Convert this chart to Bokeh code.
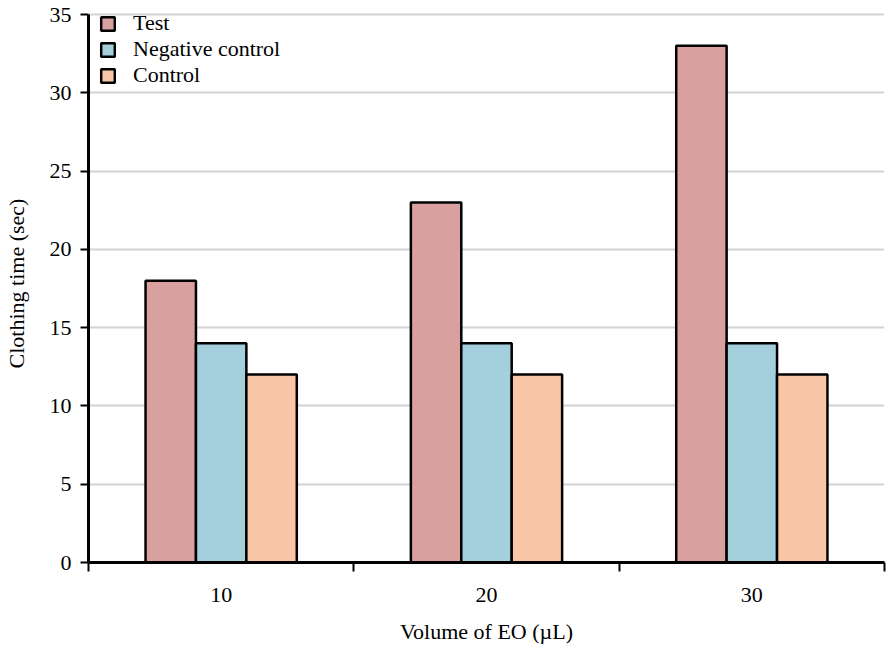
from bokeh.plotting import figure
from bokeh.models import ColumnDataSource, Range1d, FixedTicker, Legend, LegendItem
from bokeh.embed import file_html
from bokeh.resources import INLINE

categories = ["10", "20", "30"]
series_names = ["Test", "Negative control", "Control"]
test = [18, 23, 33]
negative_control = [14, 14, 14]
control = [12, 12, 12]
colors = ["#d8a09f", "#a4cfdd", "#f9c6a8"]
y_ticks = [0, 5, 10, 15, 20, 25, 30, 35]

FONT = "Liberation Serif"
FS = "22px"

# frame top a little above the 35 tick so the legend fits inside the frame;
# the axis line itself is bounded to 0..35
p = figure(width=886, height=646, output_backend="svg", toolbar_location=None,
           x_range=Range1d(0, len(categories)), y_range=Range1d(0, 35.64),
           min_border_left=88, min_border_right=2, min_border_top=4, min_border_bottom=84)
p.outline_line_color = None
p.background_fill_color = "white"
p.border_fill_color = "white"

width = 0.19
offsets = [-0.19, 0.0, 0.19]
series = [test, negative_control, control]
renderers = []
for name, vals, off, col in zip(series_names, series, offsets, colors):
    xs = [i + 0.5 + off for i in range(len(categories))]
    src = ColumnDataSource(dict(x=xs, top=vals, cat=categories))
    r = p.vbar(x="x", top="top", bottom=0, width=width, source=src,
               fill_color=col, line_color="black", line_width=2.5)
    renderers.append((name, r))

# X axis: labels at centres, ticks at group boundaries
p.xaxis.ticker = FixedTicker(ticks=[i + 0.5 for i in range(len(categories))],
                             minor_ticks=list(range(len(categories) + 1)))
p.xaxis.major_label_overrides = {i + 0.5: c for i, c in enumerate(categories)}
p.xaxis.major_tick_line_color = None
p.xaxis.major_tick_out = 0
p.xaxis.major_tick_in = 0
p.xaxis.minor_tick_out = 9
p.xaxis.minor_tick_in = 0
p.xaxis.minor_tick_line_width = 2
p.xaxis.minor_tick_line_color = "black"
p.xaxis.axis_line_width = 3
p.xaxis.axis_line_color = "black"
p.xaxis.major_label_standoff = 16
p.xaxis.axis_label = "Volume of EO (\u00b5L)"
p.xaxis.axis_label_standoff = 14

p.yaxis.ticker = FixedTicker(ticks=y_ticks)
p.yaxis.bounds = (0, 35)
p.yaxis.minor_tick_line_color = None
p.yaxis.major_tick_out = 8
p.yaxis.major_tick_in = 0
p.yaxis.major_tick_line_width = 2
p.yaxis.axis_line_width = 3
p.yaxis.major_label_standoff = 9
p.yaxis.axis_label = "Clothing time (sec)"
p.yaxis.axis_label_standoff = 18

for ax in (p.xaxis, p.yaxis):
    ax.major_label_text_font = FONT
    ax.major_label_text_font_size = FS
    ax.major_label_text_color = "black"
    ax.axis_label_text_font = FONT
    ax.axis_label_text_font_size = FS
    ax.axis_label_text_font_style = "normal"
    ax.axis_label_text_color = "black"

p.xgrid.grid_line_color = None
p.ygrid.ticker = FixedTicker(ticks=y_ticks[1:])
p.ygrid.grid_line_color = "#d3d3d3"
p.ygrid.grid_line_width = 2

legend = Legend(items=[LegendItem(label=n, renderers=[r]) for n, r in renderers],
                location=(11, 474), orientation="vertical")
legend.glyph_width = 17
legend.glyph_height = 17
legend.label_height = 17
legend.spacing = -2
legend.padding = 0
legend.margin = 0
legend.label_standoff = 17
legend.label_text_font = FONT
legend.label_text_font_size = FS
legend.label_text_color = "black"
legend.border_line_color = None
legend.background_fill_alpha = 0
p.add_layout(legend, "center")

open("out.html", "w").write(file_html(p, INLINE))
